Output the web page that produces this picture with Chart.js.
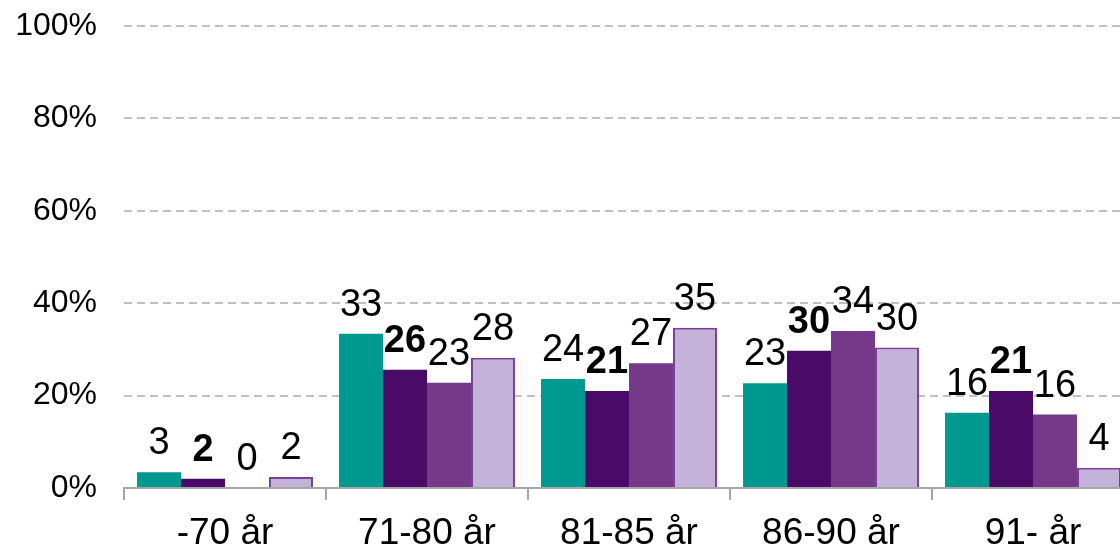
<!DOCTYPE html>
<html>
<head>
<meta charset="utf-8">
<script src="https://cdn.jsdelivr.net/npm/chart.js@4.4.1/dist/chart.umd.min.js"></script>
<style>
html,body{margin:0;padding:0;overflow:hidden;background:#fff;width:1120px;height:550px;}
#wrap{width:1140px;height:550px;position:relative;}
</style>
</head>
<body>
<div id="wrap"><canvas id="c"></canvas></div>
<script>
const categories = ["-70 år", "71-80 år", "81-85 år", "86-90 år", "91- år"];
const series1 = [3.4, 33.4, 23.6, 22.7, 16.3];
const series2 = [2.0, 25.6, 21.0, 29.7, 21.0];
const series3 = [0, 22.8, 27.0, 34.0, 15.9];
const series4 = [2.4, 28.2, 34.7, 30.4, 4.4];
const yTicks = [0, 20, 40, 60, 80, 100];

const FONT = '"Liberation Sans", Arial, sans-serif';

const labelPlugin = {
  id: 'barLabels',
  afterDatasetsDraw(chart) {
    const ctx = chart.ctx;
    chart.data.datasets.forEach((ds, i) => {
      const meta = chart.getDatasetMeta(i);
      meta.data.forEach((bar, j) => {
        ctx.save();
        ctx.font = (i === 1 ? 'bold ' : '') + '38px ' + FONT;
        ctx.fillStyle = '#000';
        ctx.textAlign = 'center';
        ctx.textBaseline = 'alphabetic';
        ctx.fillText(String(Math.round(ds.data[j])), bar.x, bar.y - 18);
        ctx.restore();
      });
    });
  }
};

new Chart(document.getElementById('c'), {
  type: 'bar',
  data: {
    labels: categories,
    datasets: [
      {data: series1, backgroundColor: '#009990', borderWidth: 0},
      {data: series2, backgroundColor: '#4A0A68', borderWidth: 0},
      {data: series3, backgroundColor: '#763889', borderWidth: 0},
      {data: series4, backgroundColor: '#C4B2D9', borderColor: '#7B3F98', borderWidth: 2}
    ]
  },
  options: {
    responsive: true,
    maintainAspectRatio: false,
    animation: false,
    layout: {padding: {top: 26, right: 6, left: 0, bottom: 0}},
    plugins: {legend: {display: false}, tooltip: {enabled: false}},
    datasets: {bar: {categoryPercentage: 0.871, barPercentage: 1}},
    scales: {
      x: {
        grid: {offset: true, drawOnChartArea: false, drawTicks: true, tickLength: 12, color: '#A6A6A6', lineWidth: 2},
        border: {display: true, color: '#A6A6A6', width: 2},
        ticks: {font: {family: FONT, size: 37}, color: '#000', padding: 12, maxRotation: 0},
        afterFit(s) { s.height = 62; s.paddingLeft = 0; s.paddingRight = 0; }
      },
      y: {
        min: 0, max: 100,
        afterBuildTicks(s) { s.ticks = yTicks.map(v => ({value: v})); },
        grid: {
          drawTicks: false,
          color: (c) => c.tick && c.tick.value === 0 ? 'rgba(0,0,0,0)' : '#C0C0C0',
          lineWidth: 2
        },
        border: {display: false, dash: [8, 5]},
        ticks: {font: {family: FONT, size: 32}, color: '#000', padding: 27, callback: v => v + '%'},
        afterFit(s) { s.width = 124; s.paddingTop = 0; s.paddingBottom = 0; }
      }
    }
  },
  plugins: [labelPlugin]
});
</script>
</body>
</html>
